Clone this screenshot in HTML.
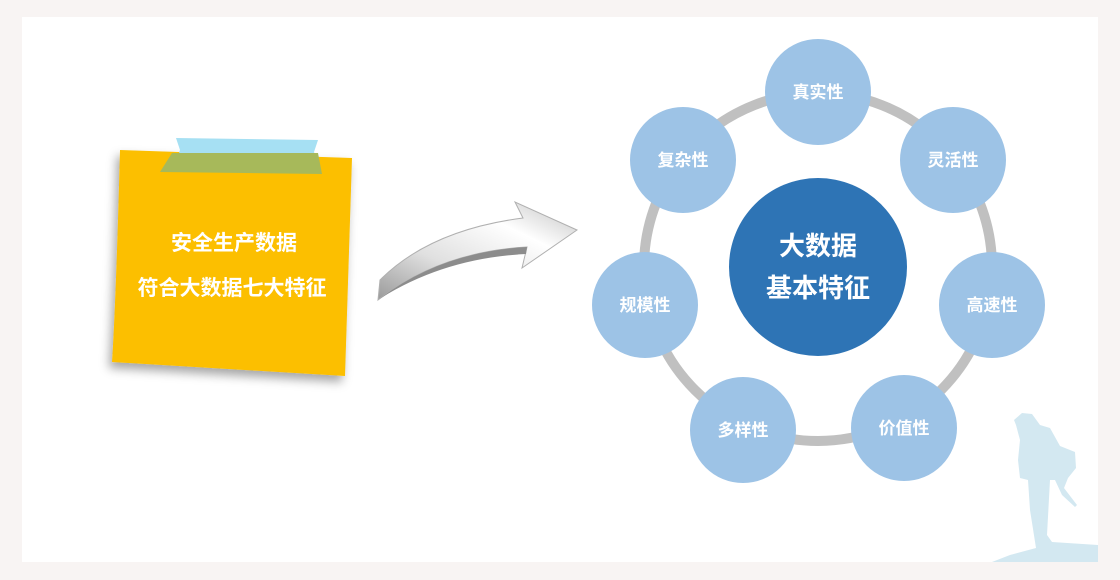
<!DOCTYPE html>
<html><head><meta charset="utf-8"><style>
body{margin:0;width:1120px;height:580px;background:#f8f4f3;position:relative;overflow:hidden;font-family:"Liberation Sans","Noto Sans CJK SC",sans-serif;}
#panel{position:absolute;left:22px;top:17px;width:1076px;height:545px;background:#fff;}
</style></head><body>
<div id="panel"></div>
<svg width="1120" height="580" style="position:absolute;left:0;top:0">
<defs>
<linearGradient id="ag" x1="0" y1="1" x2="1" y2="0">
<stop offset="0" stop-color="#9a9a9a"/><stop offset="0.35" stop-color="#e0e0e0"/><stop offset="0.7" stop-color="#ffffff"/><stop offset="1" stop-color="#c0c0c0"/>
</linearGradient>
<filter id="sh" x="-20%" y="-20%" width="140%" height="140%"><feDropShadow dx="-3" dy="6" stdDeviation="5" flood-color="#000" flood-opacity="0.35"/></filter>
</defs>
<path d="M120 150 L352 158 L345 376 L112 362 Q116 300 120 150 Z" fill="#fcbf00" filter="url(#sh)"/>
<path d="M176 138 L318 140 L314 152 L318 162 L176 162 L180 150 Z" fill="#a6e0f3"/>
<path d="M172 153 L318 153 L322 174 L160 172 Z" fill="#a7b95a"/>
<text x="234" y="250" fill="#fff" font-size="21" font-weight="bold" text-anchor="middle">安全生产数据</text>
<text x="232" y="295" fill="#fff" font-size="21" font-weight="bold" text-anchor="middle">符合大数据七大特征</text>
<!-- arrow -->
<path d="M380 280 Q430 230 523 218 L515 202 L577 230 L522 268 L527 247 Q440 252 378 300 Z" fill="url(#ag)" stroke="#b0b0b0" stroke-width="1"/>
<path d="M378 300 Q440 252 527 247 L526 254 Q445 258 381 298 Z" fill="#8c8c8c"/>
<circle cx="818" cy="267" r="174" fill="none" stroke="#c0c0c0" stroke-width="10"/>
<g fill="#9dc3e6">
<circle cx="818" cy="92" r="53"/><circle cx="683" cy="160" r="53"/><circle cx="953" cy="160" r="53"/>
<circle cx="645" cy="305" r="53"/><circle cx="992" cy="305" r="53"/><circle cx="743" cy="430" r="53"/><circle cx="904" cy="428" r="53"/>
</g>
<circle cx="818" cy="267" r="89" fill="#2e74b5"/>
<g fill="#fff" font-size="17" font-weight="bold" text-anchor="middle">
<text x="818" y="98">真实性</text><text x="683" y="166">复杂性</text><text x="953" y="166">灵活性</text>
<text x="645" y="311">规模性</text><text x="992" y="311">高速性</text><text x="743" y="436">多样性</text><text x="904" y="434">价值性</text>
</g>
<g fill="#fff" font-size="26" font-weight="bold" text-anchor="middle">
<text x="818" y="255">大数据</text><text x="818" y="297">基本特征</text>
</g>
<path d="M1014 420 L1022 413 L1032 414 L1040 425 L1050 428 L1060 446 L1075 452 L1076 468 L1068 478 L1064 488 L1077 505 L1075 507 L1062 495 L1055 480 L1050 480 L1047 535 L1052 542 L1098 545 L1098 562 L992 562 L1010 555 L1036 548 L1030 510 L1028 480 L1020 478 L1018 460 L1020 440 L1016 425 Z" fill="#d3e8f1"/>
</svg>
</body></html>
